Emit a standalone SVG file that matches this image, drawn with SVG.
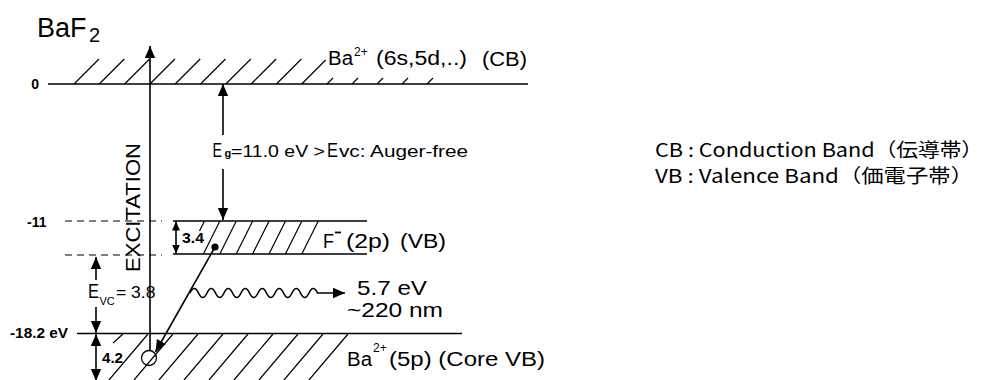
<svg xmlns="http://www.w3.org/2000/svg" width="997" height="380" viewBox="0 0 997 380">
  <defs>
    <style>
      text { font-family: "Liberation Sans", Arial, Helvetica, sans-serif; fill: #000; }
      .band { stroke: #000; stroke-width: 1.6; fill: none; }
      .hatch { stroke: #000; stroke-width: 1.2; fill: none; }
      .dash { stroke: #000; stroke-width: 1.2; stroke-dasharray: 7 5; fill: none; }
      .conn { stroke: #000; stroke-width: 1.6; fill: none; }
      .lvl { font-size: 14px; font-weight: bold; }
      .lbl { font-size: 20px; }
      .sup { font-size: 12px; }
      .dim { font-size: 14px; font-weight: bold; }
      .jp { font-family: "Noto Sans CJK JP", "Noto Sans", sans-serif; font-size: 19px; }
    </style>
    <marker id="head" markerUnits="userSpaceOnUse" markerWidth="12" markerHeight="14" refX="14" refY="6" viewBox="0 0 14 12" orient="auto-start-reverse">
      <path d="M0,0 L14,6 L0,12 z" fill="#000"/>
    </marker>
    <marker id="headS" markerUnits="userSpaceOnUse" markerWidth="9" markerHeight="8" refX="9" refY="4" viewBox="0 0 9 8" orient="auto-start-reverse">
      <path d="M0,0 L9,4 L0,8 z" fill="#000"/>
    </marker>
  </defs>

  <!-- title -->
  <g id="title">
    <text x="37" y="37" font-size="27">BaF</text>
    <text x="89" y="42" font-size="20">2</text>
  </g>

  <!-- energy scale labels -->
  <g id="scale">
    <text class="lvl" x="39" y="89" text-anchor="end">0</text>
    <text class="lvl" x="27" y="227">-11</text>
    <text class="lvl" x="10" y="338" textLength="58" lengthAdjust="spacingAndGlyphs">-18.2 eV</text>
    <path class="dash" d="M65 221H162M65 255H162"/>
  </g>

  <!-- conduction band, Ba 6s/5d -->
  <g id="cb">
    <path class="band" d="M48 84H528"/>
    <path class="hatch" d="M74 84l25-25M99.3 84l25-25M124.6 84l25-25M149.9 84l25-25M175.2 84l25-25M200.5 84l25-25M225.8 84l25-25M251.1 84l25-25M276.4 84l25-25M301.7 84l24-24M327 84l6-6M352 84l6-6M377 84l6-6M402 84l6-6M427 84l6-6"/>
    <text class="lbl" x="328" y="65" font-size="19" textLength="25" lengthAdjust="spacingAndGlyphs">Ba</text>
    <text class="sup" x="354" y="56" font-size="11">2+</text>
    <text class="lbl" x="376" y="65" font-size="19" textLength="91" lengthAdjust="spacingAndGlyphs">(6s,5d,..)</text>
    <text class="lbl" x="482" y="66" font-size="19" textLength="45" lengthAdjust="spacingAndGlyphs">(CB)</text>
  </g>

  <!-- valence band, F 2p -->
  <g id="vb">
    <path class="band" d="M173 221H367M173 254H367"/>
    <path class="hatch" d="M199.5 231L204.5 221M203.4 254l16.5-33M219.8 254l16.5-33M236.2 254l16.5-33M252.6 254l16.5-33M269 254l16.5-33M285.4 254l16.5-33M301.8 254l16.5-33"/>
    <text class="lbl" x="323" y="248" font-size="21" textLength="11" lengthAdjust="spacingAndGlyphs">F</text>
    <path d="M335 232.5h6" stroke="#000" stroke-width="1.8"/>
    <text class="lbl" x="346" y="248" font-size="21" textLength="44" lengthAdjust="spacingAndGlyphs">(2p)</text>
    <text class="lbl" x="400" y="248" font-size="21" textLength="46" lengthAdjust="spacingAndGlyphs">(VB)</text>
    <circle cx="215" cy="247" r="3.6" fill="#000"/>
  </g>

  <!-- core valence band, Ba 5p -->
  <g id="core">
    <path class="band" d="M77 333.5H462"/>
    <path class="hatch" d="M123 334l-10 9M148 334l-39 46M173 334l-39 46M198 334l-39 46M223 334l-39 46M248 334l-39 46M273 334l-39 46M298 334l-39 46M323 334l-39 46M348 334l-39 46"/>
    <circle cx="149" cy="358" r="7.5" fill="none" stroke="#000" stroke-width="1.3"/>
    <text class="lbl" x="347" y="366" font-size="21" textLength="25" lengthAdjust="spacingAndGlyphs">Ba</text>
    <text class="sup" x="373" y="352" font-size="12">2+</text>
    <text class="lbl" x="389" y="366" font-size="21" textLength="156" lengthAdjust="spacingAndGlyphs">(5p) (Core VB)</text>
  </g>

  <!-- gap and band-width annotations -->
  <g id="labels">
    <text x="212.5" y="157" font-size="20" textLength="9.5" lengthAdjust="spacingAndGlyphs">E</text>
    <text x="224.5" y="157" font-size="11" font-weight="bold">g</text>
    <text x="231" y="157" font-size="17" textLength="94" lengthAdjust="spacingAndGlyphs">=11.0 eV &gt; </text>
    <text x="327" y="157" font-size="20" textLength="11" lengthAdjust="spacingAndGlyphs">E</text>
    <text x="339" y="157" font-size="16" textLength="129" lengthAdjust="spacingAndGlyphs">vc: Auger-free</text>

    <text transform="translate(140,207.5) rotate(-90)" text-anchor="middle" font-size="21" textLength="129" lengthAdjust="spacingAndGlyphs">EXCITATION</text>

    <text class="dim" x="182" y="243" textLength="22" lengthAdjust="spacingAndGlyphs">3.4</text>
    <text class="dim" x="102" y="363" textLength="21" lengthAdjust="spacingAndGlyphs">4.2</text>

    <text x="88" y="298" font-size="20" textLength="11" lengthAdjust="spacingAndGlyphs">E</text>
    <text x="99.5" y="305" font-size="11">VC</text>
    <text x="116" y="298" font-size="16" textLength="39.5" lengthAdjust="spacingAndGlyphs">= 3.8</text>

    <text x="357" y="295" font-size="21" textLength="70" lengthAdjust="spacingAndGlyphs">5.7 eV</text>
    <text x="347" y="317" font-size="20" textLength="96" lengthAdjust="spacingAndGlyphs">~220 nm</text>
  </g>

  <!-- legend -->
  <g id="legend">
    <text class="jp" x="655" y="157" textLength="328" lengthAdjust="spacingAndGlyphs">CB : Conduction Band（伝導帯）</text>
    <text class="jp" x="655" y="183" textLength="318" lengthAdjust="spacingAndGlyphs">VB : Valence Band（価電子帯）</text>
  </g>

  <!-- arrows -->
  <g id="connectors">
    <!-- excitation from core hole up into CB -->
    <path class="conn" d="M150 350.5V46" marker-end="url(#head)"/>
    <!-- band gap Eg -->
    <path class="conn" d="M223 135V84" marker-end="url(#head)"/>
    <path class="conn" d="M223 169V220" marker-end="url(#head)"/>
    <!-- VB electron filling the core hole -->
    <path class="conn" d="M215 247L155.5 352" marker-end="url(#head)"/>
    <!-- emitted photon -->
    <path class="conn" stroke-width="1.3" d="M190 293q4.25-9 8.5 0t8.5 0t8.5 0t8.5 0t8.5 0t8.5 0t8.5 0t8.5 0t8.5 0t8.5 0t8.5 0t8.5 0t8.5 0t8.5 0t8.5 0H345" marker-end="url(#head)"/>
    <!-- E_VC bracket -->
    <path class="conn" d="M96 280V257" marker-end="url(#head)"/>
    <path class="conn" d="M96 307V333" marker-end="url(#head)"/>
    <!-- core band width 4.2 -->
    <path class="conn" d="M96 334V381" marker-start="url(#head)" marker-end="url(#head)"/>
    <!-- VB width 3.4 -->
    <path class="conn" stroke-width="1.3" d="M176 221.5V253.5" marker-start="url(#headS)" marker-end="url(#headS)"/>
  </g>
</svg>
